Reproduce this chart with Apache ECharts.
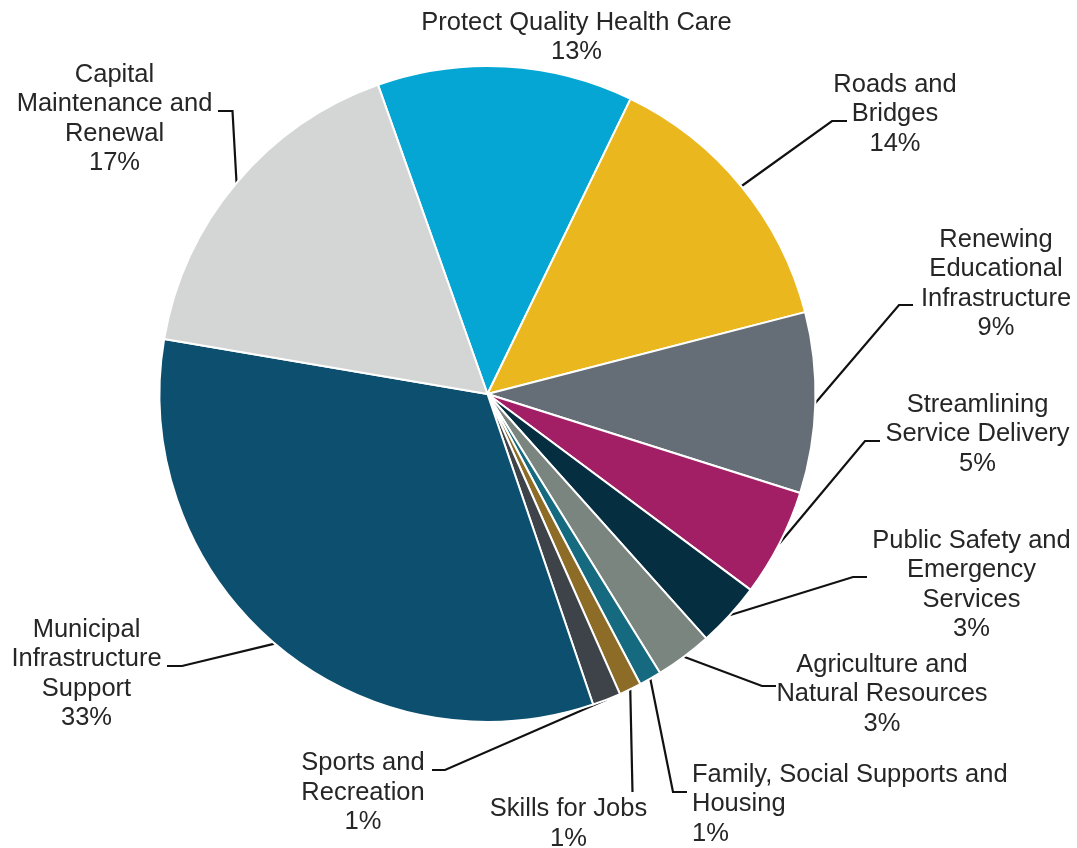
<!DOCTYPE html>
<html>
<head>
<meta charset="utf-8">
<script src="https://cdn.jsdelivr.net/npm/echarts@6/dist/echarts.min.js"></script>
<style>
html,body{margin:0;padding:0;background:#ffffff;}
#chart{width:1077px;height:848px;}
</style>
</head>
<body>
<div id="chart"></div>
<script>
// ---- data ----
const categories = [
  "Protect Quality Health Care",
  "Roads and\nBridges",
  "Renewing\nEducational\nInfrastructure",
  "Streamlining\nService Delivery",
  "Public Safety and\nEmergency\nServices",
  "Agriculture and\nNatural Resources",
  "Family, Social Supports and\nHousing",
  "Skills for Jobs",
  "Sports and\nRecreation",
  "Municipal\nInfrastructure\nSupport",
  "Capital\nMaintenance and\nRenewal"
];
const shares = [12.6, 13.8, 8.9, 5.3, 3.2, 2.8, 1.1, 1.1, 1.4, 32.9, 16.9];
const colors = ["#05A6D3", "#EBB71F", "#656E77", "#A21F66", "#062E41",
                "#7B8580", "#156A80", "#8D6C27", "#3E434A", "#0D4F6E", "#D4D5D5"];

// ---- label placement (text anchor, alignment, leader-line elbow) ----
const labelPlacement = [
  { x: 576.5, y: 8,     align: "center", line: null },
  { x: 895,   y: 70,    align: "center", line: [[832, 121], [847, 121]] },
  { x: 996,   y: 225,   align: "center", line: [[899, 305], [913, 305]] },
  { x: 977.5, y: 390,   align: "center", line: [[865, 441], [880, 441]] },
  { x: 971.5, y: 526,   align: "center", line: [[853, 577], [867, 577]] },
  { x: 882,   y: 650,   align: "center", line: [[762, 686], [776, 686]] },
  { x: 692,   y: 760,   align: "left",   line: [[673, 792], [687, 792]] },
  { x: 568.5, y: 794.5, align: "center", line: [[632.5, 792], [632.5, 792]] },
  { x: 363,   y: 748.5, align: "center", line: [[445, 770], [432, 770]] },
  { x: 86.5,  y: 615,   align: "center", line: [[182, 666], [167, 666]] },
  { x: 114.5, y: 60,    align: "center", line: [[232.5, 111], [218, 111]] }
];

const chart = echarts.init(document.getElementById("chart"), null, { renderer: "canvas" });

const seriesData = categories.map((name, i) => ({
  name: name,
  value: shares[i],
  itemStyle: { color: colors[i] },
  labelLine: { show: labelPlacement[i].line !== null }
}));

chart.setOption({
  animation: false,
  backgroundColor: "#ffffff",
  series: [{
    type: "pie",
    center: [487.5, 394],
    radius: 328,
    startAngle: 109.5,
    clockwise: true,
    avoidLabelOverlap: false,
    itemStyle: { borderColor: "#ffffff", borderWidth: 2 },
    label: {
      show: true,
      position: "outside",
      formatter: p => p.name + "\n" + Math.round(p.value) + "%",
      fontFamily: "Liberation Sans, Arial, sans-serif",
      fontSize: 25.5,
      lineHeight: 29.5,
      color: "#262626"
    },
    labelLine: {
      show: true,
      length: 20,
      length2: 15,
      lineStyle: { color: "#111111", width: 2.2 }
    },
    emphasis: { disabled: true },
    labelLayout: function (params) {
      const cfg = labelPlacement[params.dataIndex];
      const out = { x: cfg.x, y: cfg.y, align: cfg.align, verticalAlign: "top" };
      if (cfg.line && params.labelLinePoints) {
        const start = params.labelLinePoints[0];
        out.labelLinePoints = [start, cfg.line[0], cfg.line[1]];
      }
      return out;
    },
    data: seriesData
  }]
});
</script>
</body>
</html>
